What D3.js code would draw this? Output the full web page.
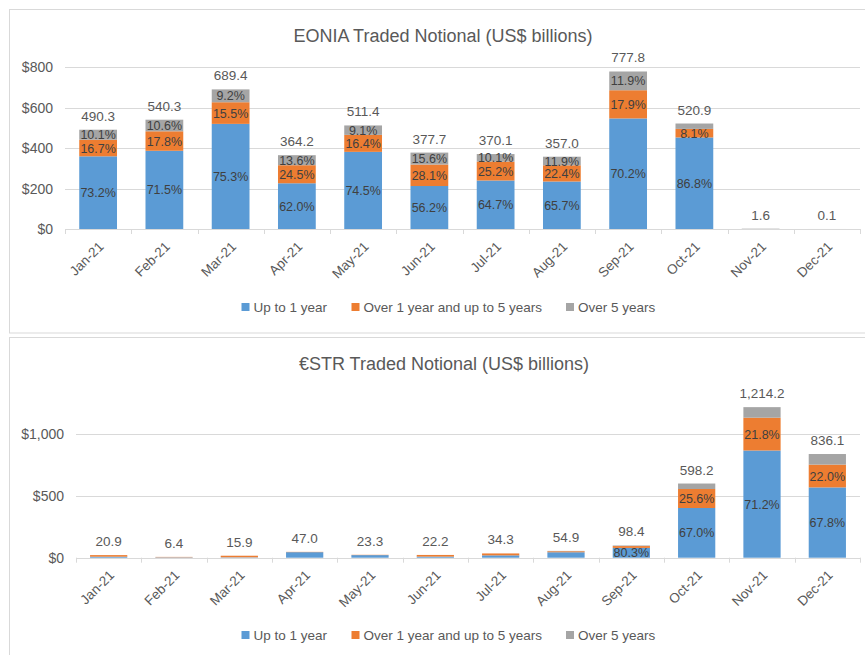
<!DOCTYPE html>
<html><head><meta charset="utf-8">
<script src="https://cdn.jsdelivr.net/npm/d3@7/dist/d3.min.js"></script>
<style>body{margin:0;background:#fff;}svg{display:block;font-family:"Liberation Sans",Arial,sans-serif;}</style>
</head><body>
<svg id="c" width="865" height="655"></svg>
<script>
// ---- data ----
const months = ["Jan-21","Feb-21","Mar-21","Apr-21","May-21","Jun-21","Jul-21","Aug-21","Sep-21","Oct-21","Nov-21","Dec-21"];
const seriesNames = ["Up to 1 year","Over 1 year and up to 5 years","Over 5 years"];
const colors = ["#5b9bd5","#ed7d31","#a5a5a5"];

// EONIA totals (US$ bn) and shares (%)
const eoniaTotal = [490.3,540.3,689.4,364.2,511.4,377.7,370.1,357.0,777.8,520.9,1.6,0.1];
const eoniaShort = [73.2,71.5,75.3,62.0,74.5,56.2,64.7,65.7,70.2,86.8,0,0];
const eoniaMid   = [16.7,17.8,15.5,24.5,16.4,28.1,25.2,22.4,17.9,8.1,0,0];
const eoniaLong  = [10.1,10.6,9.2,13.6,9.1,15.6,10.1,11.9,11.9,5.1,100,100];
// which share labels are printed (short, mid, long)
const eoniaShortLbl = [1,1,1,1,1,1,1,1,1,1,0,0];
const eoniaMidLbl   = [1,1,1,1,1,1,1,1,1,1,0,0];
const eoniaLongLbl  = [1,1,1,1,1,1,1,1,1,0,0,0];
const eoniaTotalLbl = ["490.3","540.3","689.4","364.2","511.4","377.7","370.1","357.0","777.8","520.9","1.6","0.1"];
const eoniaTicks = [0,200,400,600,800];

// €STR totals (US$ bn) and shares (%)
const estrTotal = [20.9,6.4,15.9,47.0,23.3,22.2,34.3,54.9,98.4,598.2,1214.2,836.1];
const estrShort = [40,50,20,95,90,40,55,80,80.3,67.0,71.2,67.8];
const estrMid   = [60,50,80,5,10,60,45,15,15.0,25.6,21.8,22.0];
const estrLong  = [0,0,0,0,0,0,0,5,4.7,7.4,7.0,10.2];
const estrShortLbl = [0,0,0,0,0,0,0,0,1,1,1,1];
const estrMidLbl   = [0,0,0,0,0,0,0,0,0,1,1,1];
const estrLongLbl  = [0,0,0,0,0,0,0,0,0,0,0,0];
const estrTotalLbl = ["20.9","6.4","15.9","47.0","23.3","22.2","34.3","54.9","98.4","598.2","1,214.2","836.1"];
const estrTicks = [0,500,1000];

const svg = d3.select("#c");

function panel(o){
  const g = svg.append("g");
  g.append("rect").attr("x",o.box[0]).attr("y",o.box[1]).attr("width",o.box[2]).attr("height",o.box[3])
    .attr("fill","#fff").attr("stroke","#d9d9d9").attr("stroke-width",1);
  g.append("text").attr("x",o.titleX).attr("y",o.titleY).attr("text-anchor","middle")
    .attr("font-size",18).attr("fill","#595959").text(o.title);

  const x = d3.scaleBand().domain(months).range([o.x0,o.x1]).paddingInner(0.43).paddingOuter(0.215);
  const xb = d3.scaleBand().domain(months).range([o.x0,o.x1]);
  const y = d3.scaleLinear().domain([0,o.ymax]).range([o.y0,o.yTop]);

  // gridlines
  g.append("g").selectAll("line").data(o.ticks.filter(t=>t>0)).join("line")
    .attr("x1",o.x0).attr("x2",o.x1).attr("y1",d=>Math.round(y(d))+0.5).attr("y2",d=>Math.round(y(d))+0.5)
    .attr("stroke","#d9d9d9").attr("stroke-width",1);
  // y labels
  g.append("g").selectAll("text").data(o.ticks).join("text")
    .attr("x",o.x0-12).attr("y",d=>y(d)+5).attr("text-anchor","end")
    .attr("font-size",14).attr("fill","#595959").text(d=>"$"+d3.format(",")(d));

  // stacked bars
  const shares = [o.short,o.mid,o.long];
  const lbls = [o.shortLbl,o.midLbl,o.longLbl];
  months.forEach((m,i)=>{
    let acc = 0;
    shares.forEach((s,k)=>{
      const v = o.total[i]*s[i]/100;
      const yb = y(acc), yt = y(acc+v);
      g.append("rect").attr("x",x(m)).attr("width",x.bandwidth())
        .attr("y",yt).attr("height",Math.max(0,yb-yt)).attr("fill",colors[k]);
      acc += v;
    });
  });
  months.forEach((m,i)=>{
    let acc = 0;
    shares.forEach((s,k)=>{
      const v = o.total[i]*s[i]/100;
      if(lbls[k][i]){
        g.append("text").attr("x",x(m)+x.bandwidth()/2).attr("y",y(acc+v/2)+4.5)
          .attr("text-anchor","middle").attr("font-size",12.5).attr("fill","#404040")
          .text(d3.format(".1f")(s[i])+"%");
      }
      acc += v;
    });
    g.append("text").attr("x",x(m)+x.bandwidth()/2).attr("y",y(o.total[i])-9)
      .attr("text-anchor","middle").attr("font-size",13.5).attr("fill","#595959").text(o.totalLbl[i]);
  });

  // x axis
  g.append("line").attr("x1",o.x0).attr("x2",o.x1).attr("y1",Math.round(o.y0)+0.5).attr("y2",Math.round(o.y0)+0.5)
    .attr("stroke","#d9d9d9");
  const bounds = months.map(m=>xb(m)).concat([o.x1]);
  g.append("g").selectAll("line").data(bounds).join("line")
    .attr("x1",d=>Math.round(d)+0.5).attr("x2",d=>Math.round(d)+0.5)
    .attr("y1",o.y0).attr("y2",o.y0+5).attr("stroke","#d9d9d9");
  g.append("g").selectAll("text").data(months).join("text")
    .attr("transform",m=>`translate(${xb(m)+xb.bandwidth()/2+3},${o.y0+15}) rotate(-45)`)
    .attr("text-anchor","end").attr("font-size",13.5).attr("fill","#595959").attr("dy","0.35em").text(m=>m);

  // legend
  const lx = [241.5,351.5,566];
  seriesNames.forEach((n,k)=>{
    g.append("rect").attr("x",lx[k]).attr("y",o.legY-7).attr("width",8).attr("height",8).attr("fill",colors[k]);
    g.append("text").attr("x",lx[k]+12).attr("y",o.legY+2).attr("font-size",13.5).attr("fill","#595959").text(n);
  });
}

panel({box:[9.5,9.5,870,323.5], title:"EONIA Traded Notional (US$ billions)", titleX:443, titleY:42,
  x0:65, x1:860, y0:229, yTop:67, ymax:800, ticks:eoniaTicks,
  total:eoniaTotal, short:eoniaShort, mid:eoniaMid, long:eoniaLong,
  shortLbl:eoniaShortLbl, midLbl:eoniaMidLbl, longLbl:eoniaLongLbl, totalLbl:eoniaTotalLbl, legY:310});

panel({box:[9.5,337.5,870,330], title:"€STR Traded Notional (US$ billions)", titleX:444, titleY:370,
  x0:76, x1:860, y0:557.7, yTop:433.7, ymax:1000, ticks:estrTicks,
  total:estrTotal, short:estrShort, mid:estrMid, long:estrLong,
  shortLbl:estrShortLbl, midLbl:estrMidLbl, longLbl:estrLongLbl, totalLbl:estrTotalLbl, legY:638});
</script>
</body></html>
